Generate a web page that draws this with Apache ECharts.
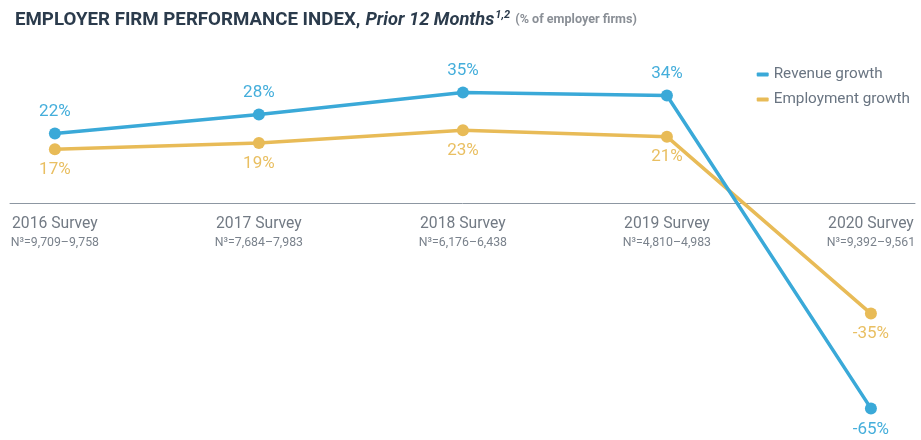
<!DOCTYPE html>
<html><head><meta charset="utf-8">
<script src="https://cdn.jsdelivr.net/npm/echarts@6/dist/echarts.min.js"></script>
<style>html,body{margin:0;padding:0;background:#fff}#c{width:921px;height:440px}</style>
</head><body><div id="c"></div>
<script>
const categories = ['2016 Survey','2017 Survey','2018 Survey','2019 Survey','2020 Survey'];
const sampleSizes = ['N³=9,709–9,758','N³=7,684–7,983','N³=6,176–6,438','N³=4,810–4,983','N³=9,392–9,561'];
const revenueGrowth = [22, 28, 35, 34, -65];
const employmentGrowth = [17, 19, 23, 21, -35];

const BLUE = '#3aa9d8', GOLD = '#e8bb57';
const chart = echarts.init(document.getElementById('c'));
const font = 'Roboto, "Noto Sans", sans-serif';

function mk(vals, above) {
  return vals.map((v, i) => ({
    value: [i, v],
    label: { position: (above && v >= 0) ? 'top' : 'bottom' }
  }));
}

const Y_MIN = -70, Y_MAX = 50, TOP = 45, BOTTOM = 15.8;
const plotH = 440 - TOP - BOTTOM;
const zeroOffset = -plotH * (0 - Y_MIN) / (Y_MAX - Y_MIN);

chart.setOption({
  animation: false,
  title: {
    left: 10, top: 5,
    text: '{b|EMPLOYER FIRM PERFORMANCE INDEX,} {i|Prior 12 Months}{s|1,2} {g|(% of employer firms)}',
    textStyle: {
      rich: {
        b: { fontFamily: font, fontWeight: 'bold', fontSize: 18.7, color: '#2b3b4c' },
        i: { fontFamily: font, fontStyle: 'italic', fontSize: 18.3, color: '#2b3b4c' },
        s: { fontFamily: font, fontStyle: 'italic', fontSize: 11, color: '#2b3b4c', verticalAlign: 'top', padding: [0,0,9,1] },
        g: { fontFamily: font, fontSize: 12.6, color: '#8a8f96' }
      }
    }
  },
  legend: {
    right: 6, top: 62, orient: 'vertical', itemGap: 10,
    icon: 'roundRect', itemWidth: 12, itemHeight: 4,
    textStyle: { fontFamily: font, fontSize: 15.3, color: '#6a7582', padding: [0,0,0,0] },
    data: ['Revenue growth', 'Employment growth']
  },
  grid: { left: 10, right: 6, top: TOP, bottom: BOTTOM, outerBoundsMode: 'none', containLabel: false },
  xAxis: {
    type: 'value', min: -0.22, max: 4.216,
    position: 'bottom', offset: zeroOffset,
    splitLine: { show: false },
    axisTick: { show: false },
    axisLine: { onZero: false, lineStyle: { color: '#8d97a2', width: 1 } },
    axisLabel: {
      customValues: [0, 1, 2, 3, 4],
      margin: 11,
      formatter: v => '{a|' + categories[Math.round(v)] + '}\n{b|' + sampleSizes[Math.round(v)] + '}',
      rich: {
        a: { fontFamily: font, fontSize: 15.7, color: '#727a84', lineHeight: 20 },
        b: { fontFamily: font, fontSize: 12.3, color: '#7a828c', lineHeight: 18 }
      }
    }
  },
  yAxis: { type: 'value', min: Y_MIN, max: Y_MAX, show: false, splitLine: { show: false } },
  series: [
    {
      name: 'Revenue growth', type: 'line', data: mk(revenueGrowth, true),
      color: BLUE, symbol: 'circle', symbolSize: 12,
      lineStyle: { width: 3.5, color: BLUE }, itemStyle: { color: BLUE },
      label: { show: true, distance: 7, formatter: p => p.value[1] + '%', fontFamily: font, fontSize: 17, color: '#45aedb' },
      z: 3
    },
    {
      name: 'Employment growth', type: 'line', data: mk(employmentGrowth, false),
      color: GOLD, symbol: 'circle', symbolSize: 12,
      lineStyle: { width: 3.5, color: GOLD }, itemStyle: { color: GOLD },
      label: { show: true, distance: 6, formatter: p => p.value[1] + '%', fontFamily: font, fontSize: 17, color: '#e9bf62' },
      z: 2
    }
  ]
});
</script></body></html>
